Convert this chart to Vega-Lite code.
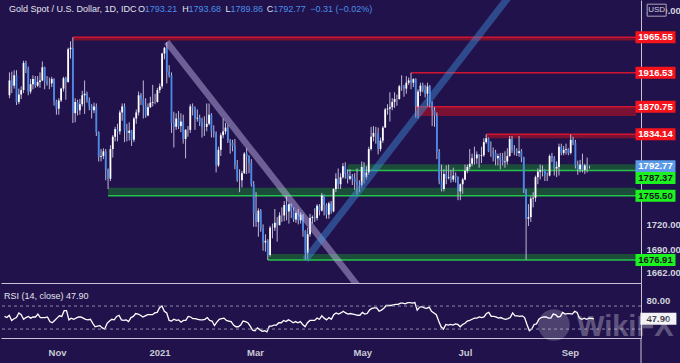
{
"$schema":"https://vega.github.io/schema/vega-lite/v6.json",
"background":"#21124b",
"padding":0,
"spacing":0,
"bounds":"flush",
"config":{"view":{"stroke":null},"font":"Liberation Sans","axis":{"grid":false,"ticks":false,"title":null,"domainColor":"#c4c2d4","domainWidth":1,"labelColor":"#d1d4dc","labelFont":"Liberation Sans","labelFontSize":9.5,"labelFontWeight":"bold","labelOverlap":false,"labelBound":false}},
"datasets":{
"px":[
{"t":-22,"o":1886,"h":1917,"l":1882,"c":1906,"r":52},
{"t":-21,"o":1906,"h":1918,"l":1889,"c":1899,"r":50},
{"t":-20,"o":1899,"h":1920,"l":1895,"c":1913,"r":54},
{"t":-19,"o":1913,"h":1920,"l":1873,"c":1877,"r":45},
{"t":-18,"o":1877,"h":1895,"l":1874,"c":1887,"r":48},
{"t":-17,"o":1887,"h":1898,"l":1881,"c":1893,"r":50},
{"t":-16,"o":1893,"h":1933,"l":1889,"c":1930,"r":58},
{"t":-15,"o":1930,"h":1933,"l":1916,"c":1922,"r":55},
{"t":-14,"o":1922,"h":1925,"l":1886,"c":1891,"r":47},
{"t":-13,"o":1891,"h":1908,"l":1888,"c":1901,"r":50},
{"t":-12,"o":1901,"h":1913,"l":1894,"c":1908,"r":52},
{"t":-11,"o":1908,"h":1912,"l":1896,"c":1899,"r":49},
{"t":-10,"o":1899,"h":1912,"l":1897,"c":1904,"r":51},
{"t":-9,"o":1904,"h":1917,"l":1896,"c":1906,"r":51},
{"t":-8,"o":1906,"h":1932,"l":1905,"c":1924,"r":56},
{"t":-7,"o":1924,"h":1925,"l":1894,"c":1905,"r":50},
{"t":-6,"o":1905,"h":1912,"l":1899,"c":1902,"r":50},
{"t":-5,"o":1902,"h":1910,"l":1894,"c":1902,"r":50},
{"t":-4,"o":1902,"h":1911,"l":1897,"c":1908,"r":51},
{"t":-3,"o":1908,"h":1909,"l":1872,"c":1878,"r":43},
{"t":-2,"o":1878,"h":1880,"l":1860,"c":1868,"r":41},
{"t":-1,"o":1868,"h":1882,"l":1860,"c":1879,"r":45},
{"t":0,"o":1879,"h":1896,"l":1877,"c":1895,"r":49},
{"t":1,"o":1895,"h":1911,"l":1891,"c":1909,"r":53},
{"t":2,"o":1909,"h":1911,"l":1880,"c":1904,"r":52},
{"t":3,"o":1904,"h":1951,"l":1903,"c":1949,"r":62},
{"t":4,"o":1949,"h":1960,"l":1936,"c":1951,"r":62},
{"t":5,"o":1951,"h":1965.55,"l":1849,"c":1862,"r":46},
{"t":6,"o":1862,"h":1882,"l":1850,"c":1877,"r":49},
{"t":7,"o":1877,"h":1880,"l":1859,"c":1866,"r":47},
{"t":8,"o":1866,"h":1881,"l":1860,"c":1874,"r":49},
{"t":9,"o":1874,"h":1892,"l":1871,"c":1886,"r":51},
{"t":10,"o":1886,"h":1906,"l":1861,"c":1888,"r":51},
{"t":11,"o":1888,"h":1891,"l":1876,"c":1879,"r":49},
{"t":12,"o":1879,"h":1883,"l":1866,"c":1871,"r":47},
{"t":13,"o":1871,"h":1874,"l":1855,"c":1866,"r":46},
{"t":14,"o":1866,"h":1876,"l":1862,"c":1871,"r":47},
{"t":15,"o":1871,"h":1875,"l":1832,"c":1837,"r":40},
{"t":16,"o":1837,"h":1838,"l":1799,"c":1805,"r":34},
{"t":17,"o":1805,"h":1815,"l":1799,"c":1806,"r":35},
{"t":18,"o":1806,"h":1816,"l":1802,"c":1812,"r":36},
{"t":19,"o":1812,"h":1815,"l":1775,"c":1788,"r":32},
{"t":20,"o":1788,"h":1790,"l":1764,"c":1777,"r":30},
{"t":21,"o":1777,"h":1820,"l":1774,"c":1815,"r":40},
{"t":22,"o":1815,"h":1833,"l":1804,"c":1831,"r":44},
{"t":23,"o":1831,"h":1844,"l":1825,"c":1841,"r":47},
{"t":24,"o":1841,"h":1848,"l":1825,"c":1838,"r":46},
{"t":25,"o":1838,"h":1866,"l":1834,"c":1863,"r":52},
{"t":26,"o":1863,"h":1875,"l":1852,"c":1871,"r":54},
{"t":27,"o":1871,"h":1875,"l":1824,"c":1839,"r":46},
{"t":28,"o":1839,"h":1848,"l":1825,"c":1836,"r":45},
{"t":29,"o":1836,"h":1850,"l":1826,"c":1839,"r":46},
{"t":30,"o":1839,"h":1840,"l":1819,"c":1827,"r":43},
{"t":31,"o":1827,"h":1857,"l":1824,"c":1855,"r":50},
{"t":32,"o":1855,"h":1867,"l":1848,"c":1863,"r":52},
{"t":33,"o":1863,"h":1891,"l":1859,"c":1886,"r":57},
{"t":34,"o":1886,"h":1889,"l":1873,"c":1881,"r":56},
{"t":35,"o":1881,"h":1906,"l":1855,"c":1872,"r":54},
{"t":36,"o":1872,"h":1882,"l":1856,"c":1859,"r":51},
{"t":37,"o":1859,"h":1875,"l":1858,"c":1870,"r":53},
{"t":38,"o":1870,"h":1884,"l":1869,"c":1876,"r":55},
{"t":39,"o":1876,"h":1900,"l":1871,"c":1877,"r":55},
{"t":40,"o":1877,"h":1888,"l":1874,"c":1877,"r":55},
{"t":41,"o":1877,"h":1896,"l":1876,"c":1893,"r":58},
{"t":42,"o":1893,"h":1902,"l":1889,"c":1898,"r":59},
{"t":43,"o":1898,"h":1944,"l":1895,"c":1943,"r":67},
{"t":44,"o":1943,"h":1952,"l":1935,"c":1951,"r":70},
{"t":45,"o":1951,"h":1959,"l":1902,"c":1918,"r":61},
{"t":46,"o":1918,"h":1927,"l":1910,"c":1913,"r":58},
{"t":47,"o":1913,"h":1917,"l":1836,"c":1849,"r":45},
{"t":48,"o":1849,"h":1864,"l":1817,"c":1844,"r":44},
{"t":49,"o":1844,"h":1862,"l":1840,"c":1855,"r":47},
{"t":50,"o":1855,"h":1865,"l":1841,"c":1845,"r":45},
{"t":51,"o":1845,"h":1862,"l":1837,"c":1851,"r":46},
{"t":52,"o":1851,"h":1860,"l":1822,"c":1828,"r":42},
{"t":53,"o":1828,"h":1841,"l":1803,"c":1840,"r":45},
{"t":54,"o":1840,"h":1845,"l":1831,"c":1840,"r":45},
{"t":55,"o":1840,"h":1874,"l":1836,"c":1871,"r":52},
{"t":56,"o":1871,"h":1875,"l":1859,"c":1869,"r":51},
{"t":57,"o":1869,"h":1871,"l":1840,"c":1855,"r":48},
{"t":58,"o":1855,"h":1867,"l":1851,"c":1856,"r":48},
{"t":59,"o":1856,"h":1860,"l":1845,"c":1850,"r":47},
{"t":60,"o":1850,"h":1856,"l":1830,"c":1844,"r":46},
{"t":61,"o":1844,"h":1858,"l":1832,"c":1844,"r":46},
{"t":62,"o":1844,"h":1875,"l":1838,"c":1848,"r":47},
{"t":63,"o":1848,"h":1875,"l":1846,"c":1860,"r":50},
{"t":64,"o":1860,"h":1862,"l":1830,"c":1838,"r":45},
{"t":65,"o":1838,"h":1846,"l":1830,"c":1835,"r":44},
{"t":66,"o":1835,"h":1838,"l":1785,"c":1794,"r":36},
{"t":67,"o":1794,"h":1818,"l":1792,"c":1814,"r":42},
{"t":68,"o":1814,"h":1836,"l":1806,"c":1833,"r":47},
{"t":69,"o":1833,"h":1855,"l":1829,"c":1838,"r":48},
{"t":70,"o":1838,"h":1849,"l":1834,"c":1843,"r":49},
{"t":71,"o":1843,"h":1847,"l":1823,"c":1826,"r":45},
{"t":72,"o":1826,"h":1828,"l":1809,"c":1823,"r":44},
{"t":73,"o":1823,"h":1827,"l":1812,"c":1819,"r":43},
{"t":74,"o":1819,"h":1828,"l":1789,"c":1794,"r":37},
{"t":75,"o":1794,"h":1801,"l":1773,"c":1775,"r":34},
{"t":76,"o":1775,"h":1789,"l":1760,"c":1775,"r":34},
{"t":77,"o":1775,"h":1787,"l":1766,"c":1784,"r":37},
{"t":78,"o":1784,"h":1811,"l":1783,"c":1809,"r":44},
{"t":79,"o":1809,"h":1816,"l":1783,"c":1806,"r":43},
{"t":80,"o":1806,"h":1807,"l":1784,"c":1797,"r":41},
{"t":81,"o":1797,"h":1802,"l":1767,"c":1770,"r":35},
{"t":82,"o":1770,"h":1774,"l":1717,"c":1734,"r":28},
{"t":83,"o":1734,"h":1760,"l":1717,"c":1723,"r":27},
{"t":84,"o":1723,"h":1740,"l":1705,"c":1737,"r":32},
{"t":85,"o":1737,"h":1739,"l":1711,"c":1715,"r":29},
{"t":86,"o":1715,"h":1720,"l":1688,"c":1698,"r":26},
{"t":87,"o":1698,"h":1708,"l":1687,"c":1700,"r":27},
{"t":88,"o":1700,"h":1702,"l":1676.91,"c":1683,"r":25},
{"t":89,"o":1683,"h":1718,"l":1681,"c":1716,"r":35},
{"t":90,"o":1716,"h":1721,"l":1703,"c":1716,"r":35},
{"t":91,"o":1716,"h":1739,"l":1712,"c":1722,"r":37},
{"t":92,"o":1722,"h":1729,"l":1699,"c":1719,"r":37},
{"t":93,"o":1719,"h":1735,"l":1719,"c":1731,"r":41},
{"t":94,"o":1731,"h":1741,"l":1723,"c":1731,"r":41},
{"t":95,"o":1731,"h":1749,"l":1724,"c":1744,"r":45},
{"t":96,"o":1744,"h":1755,"l":1725,"c":1736,"r":43},
{"t":97,"o":1736,"h":1746,"l":1721,"c":1745,"r":46},
{"t":98,"o":1745,"h":1746,"l":1728,"c":1737,"r":44},
{"t":99,"o":1737,"h":1741,"l":1723,"c":1726,"r":41},
{"t":100,"o":1726,"h":1737,"l":1722,"c":1734,"r":43},
{"t":101,"o":1734,"h":1739,"l":1720,"c":1725,"r":41},
{"t":102,"o":1725,"h":1735,"l":1721,"c":1732,"r":43},
{"t":103,"o":1732,"h":1733,"l":1705,"c":1712,"r":38},
{"t":104,"o":1712,"h":1713,"l":1677,"c":1685,"r":34},
{"t":105,"o":1685,"h":1716,"l":1678,"c":1708,"r":41},
{"t":106,"o":1708,"h":1733,"l":1705,"c":1728,"r":45},
{"t":107,"o":1728,"h":1731,"l":1721,"c":1729,"r":45},
{"t":108,"o":1729,"h":1740,"l":1723,"c":1728,"r":45},
{"t":109,"o":1728,"h":1745,"l":1725,"c":1743,"r":49},
{"t":110,"o":1743,"h":1745,"l":1731,"c":1737,"r":47},
{"t":111,"o":1737,"h":1759,"l":1736,"c":1756,"r":53},
{"t":112,"o":1756,"h":1757,"l":1731,"c":1744,"r":49},
{"t":113,"o":1744,"h":1746,"l":1727,"c":1732,"r":46},
{"t":114,"o":1732,"h":1748,"l":1727,"c":1746,"r":50},
{"t":115,"o":1746,"h":1749,"l":1733,"c":1736,"r":47},
{"t":116,"o":1736,"h":1765,"l":1735,"c":1764,"r":55},
{"t":117,"o":1764,"h":1784,"l":1760,"c":1777,"r":58},
{"t":118,"o":1777,"h":1790,"l":1764,"c":1770,"r":56},
{"t":119,"o":1770,"h":1784,"l":1764,"c":1779,"r":58},
{"t":120,"o":1779,"h":1797,"l":1777,"c":1793,"r":61},
{"t":121,"o":1793,"h":1798,"l":1777,"c":1783,"r":58},
{"t":122,"o":1783,"h":1789,"l":1771,"c":1777,"r":56},
{"t":123,"o":1777,"h":1789,"l":1775,"c":1780,"r":57},
{"t":124,"o":1780,"h":1783,"l":1769,"c":1777,"r":56},
{"t":125,"o":1777,"h":1784,"l":1763,"c":1773,"r":55},
{"t":126,"o":1773,"h":1790,"l":1757,"c":1769,"r":54},
{"t":127,"o":1769,"h":1775,"l":1760,"c":1769,"r":54},
{"t":128,"o":1769,"h":1799,"l":1766,"c":1792,"r":59},
{"t":129,"o":1792,"h":1798,"l":1771,"c":1779,"r":56},
{"t":130,"o":1779,"h":1793,"l":1776,"c":1785,"r":57},
{"t":131,"o":1785,"h":1818,"l":1782,"c":1815,"r":63},
{"t":132,"o":1815,"h":1844,"l":1813,"c":1831,"r":66},
{"t":133,"o":1831,"h":1845,"l":1825,"c":1836,"r":67},
{"t":134,"o":1836,"h":1844,"l":1822,"c":1836,"r":67},
{"t":135,"o":1836,"h":1843,"l":1808,"c":1815,"r":61},
{"t":136,"o":1815,"h":1830,"l":1812,"c":1826,"r":63},
{"t":137,"o":1826,"h":1845,"l":1823,"c":1843,"r":66},
{"t":138,"o":1843,"h":1869,"l":1843,"c":1867,"r":71},
{"t":139,"o":1867,"h":1874,"l":1860,"c":1868,"r":71},
{"t":140,"o":1868,"h":1890,"l":1851,"c":1870,"r":71},
{"t":141,"o":1870,"h":1882,"l":1866,"c":1877,"r":72},
{"t":142,"o":1877,"h":1890,"l":1869,"c":1881,"r":73},
{"t":143,"o":1881,"h":1887,"l":1872,"c":1881,"r":73},
{"t":144,"o":1881,"h":1900,"l":1880,"c":1898,"r":75},
{"t":145,"o":1898,"h":1913,"l":1892,"c":1897,"r":75},
{"t":146,"o":1897,"h":1900,"l":1884,"c":1895,"r":74},
{"t":147,"o":1895,"h":1912,"l":1888,"c":1903,"r":76},
{"t":148,"o":1903,"h":1910,"l":1900,"c":1906,"r":76},
{"t":149,"o":1906,"h":1916.53,"l":1894,"c":1903,"r":75},
{"t":150,"o":1903,"h":1909,"l":1897,"c":1908,"r":76},
{"t":151,"o":1908,"h":1909,"l":1856,"c":1871,"r":63},
{"t":152,"o":1871,"h":1894,"l":1855,"c":1891,"r":68},
{"t":153,"o":1891,"h":1903,"l":1885,"c":1899,"r":69},
{"t":154,"o":1899,"h":1903,"l":1890,"c":1893,"r":67},
{"t":155,"o":1893,"h":1900,"l":1883,"c":1888,"r":66},
{"t":156,"o":1888,"h":1903,"l":1871,"c":1898,"r":68},
{"t":157,"o":1898,"h":1900,"l":1870,"c":1877,"r":61},
{"t":158,"o":1877,"h":1878,"l":1845,"c":1866,"r":58},
{"t":159,"o":1866,"h":1870,"l":1844,"c":1859,"r":55},
{"t":160,"o":1859,"h":1863,"l":1802,"c":1812,"r":44},
{"t":161,"o":1812,"h":1815,"l":1770,"c":1774,"r":34},
{"t":162,"o":1774,"h":1795,"l":1761,"c":1764,"r":30},
{"t":163,"o":1764,"h":1789,"l":1761,"c":1783,"r":38},
{"t":164,"o":1783,"h":1794,"l":1770,"c":1778,"r":37},
{"t":165,"o":1778,"h":1795,"l":1776,"c":1779,"r":38},
{"t":166,"o":1779,"h":1788,"l":1772,"c":1776,"r":37},
{"t":167,"o":1776,"h":1791,"l":1773,"c":1781,"r":39},
{"t":168,"o":1781,"h":1785,"l":1772,"c":1779,"r":38},
{"t":169,"o":1779,"h":1780,"l":1750,"c":1761,"r":34},
{"t":170,"o":1761,"h":1771,"l":1750,"c":1770,"r":38},
{"t":171,"o":1770,"h":1778,"l":1758,"c":1776,"r":40},
{"t":172,"o":1776,"h":1795,"l":1775,"c":1787,"r":44},
{"t":173,"o":1787,"h":1795,"l":1784,"c":1792,"r":45},
{"t":174,"o":1792,"h":1815,"l":1789,"c":1796,"r":47},
{"t":175,"o":1796,"h":1809,"l":1793,"c":1803,"r":49},
{"t":176,"o":1803,"h":1818,"l":1795,"c":1803,"r":49},
{"t":177,"o":1803,"h":1812,"l":1796,"c":1808,"r":51},
{"t":178,"o":1808,"h":1808,"l":1791,"c":1806,"r":50},
{"t":179,"o":1806,"h":1818,"l":1797,"c":1807,"r":51},
{"t":180,"o":1807,"h":1829,"l":1805,"c":1824,"r":57},
{"t":181,"o":1824,"h":1834.14,"l":1822,"c":1829,"r":59},
{"t":182,"o":1829,"h":1830,"l":1811,"c":1812,"r":52},
{"t":183,"o":1812,"h":1825,"l":1805,"c":1812,"r":52},
{"t":184,"o":1812,"h":1817,"l":1799,"c":1810,"r":51},
{"t":185,"o":1810,"h":1814,"l":1794,"c":1803,"r":49},
{"t":186,"o":1803,"h":1809,"l":1794,"c":1806,"r":50},
{"t":187,"o":1806,"h":1810,"l":1789,"c":1801,"r":48},
{"t":188,"o":1801,"h":1810,"l":1794,"c":1798,"r":47},
{"t":189,"o":1798,"h":1812,"l":1791,"c":1799,"r":48},
{"t":190,"o":1799,"h":1816,"l":1795,"c":1806,"r":50},
{"t":191,"o":1806,"h":1832,"l":1805,"c":1828,"r":58},
{"t":192,"o":1828,"h":1832,"l":1810,"c":1814,"r":53},
{"t":193,"o":1814,"h":1820,"l":1807,"c":1813,"r":53},
{"t":194,"o":1813,"h":1816,"l":1806,"c":1810,"r":52},
{"t":195,"o":1810,"h":1832,"l":1805,"c":1812,"r":53},
{"t":196,"o":1812,"h":1815,"l":1798,"c":1804,"r":50},
{"t":197,"o":1804,"h":1805,"l":1759,"c":1763,"r":38},
{"t":198,"o":1763,"h":1764,"l":1677,"c":1727,"r":27},
{"t":199,"o":1727,"h":1745,"l":1718,"c":1729,"r":30},
{"t":200,"o":1729,"h":1755,"l":1723,"c":1752,"r":38},
{"t":201,"o":1752,"h":1760,"l":1741,"c":1753,"r":39},
{"t":202,"o":1753,"h":1781,"l":1748,"c":1779,"r":47},
{"t":203,"o":1779,"h":1790,"l":1770,"c":1786,"r":50},
{"t":204,"o":1786,"h":1795,"l":1776,"c":1788,"r":51},
{"t":205,"o":1788,"h":1794,"l":1780,"c":1788,"r":51},
{"t":206,"o":1788,"h":1789,"l":1774,"c":1781,"r":49},
{"t":207,"o":1781,"h":1785,"l":1774,"c":1781,"r":49},
{"t":208,"o":1781,"h":1808,"l":1780,"c":1806,"r":56},
{"t":209,"o":1806,"h":1810,"l":1798,"c":1803,"r":55},
{"t":210,"o":1803,"h":1806,"l":1781,"c":1790,"r":51},
{"t":211,"o":1790,"h":1799,"l":1779,"c":1792,"r":52},
{"t":212,"o":1792,"h":1822,"l":1781,"c":1818,"r":59},
{"t":213,"o":1818,"h":1822,"l":1807,"c":1810,"r":56},
{"t":214,"o":1810,"h":1819,"l":1807,"c":1814,"r":57},
{"t":215,"o":1814,"h":1822,"l":1808,"c":1815,"r":57},
{"t":216,"o":1815,"h":1816,"l":1807,"c":1810,"r":56},
{"t":217,"o":1810,"h":1834,"l":1808,"c":1827,"r":61},
{"t":218,"o":1827,"h":1831,"l":1820,"c":1823,"r":59},
{"t":219,"o":1823,"h":1827,"l":1790,"c":1794,"r":49},
{"t":220,"o":1794,"h":1800,"l":1782,"c":1789,"r":47},
{"t":221,"o":1789,"h":1801,"l":1785,"c":1795,"r":49},
{"t":222,"o":1795,"h":1809,"l":1785,"c":1788,"r":47},
{"t":223,"o":1788,"h":1796,"l":1783,"c":1794,"r":49},
{"t":224,"o":1794,"h":1804,"l":1785,"c":1793.21,"r":48.5},
{"t":225,"o":1793.21,"h":1793.68,"l":1789.86,"c":1792.77,"r":47.9}
],
"lv":[
{"p":1965.55,"a":1961,"b":1965.55,"s":5,"k":"r"},
{"p":1916.53,"a":1916.53,"b":1916.53,"s":149,"k":"r"},
{"p":1870.75,"a":1858.3,"b":1870.75,"s":151,"k":"r"},
{"p":1834.14,"a":1828.9,"b":1834.14,"s":181,"k":"r"},
{"p":1787.37,"a":1787.37,"b":1795.4,"s":122,"k":"g"},
{"p":1755.5,"a":1755.5,"b":1765.6,"s":20,"k":"g"},
{"p":1676.91,"a":1676.91,"b":1684.1,"s":88,"k":"g"}
],
"tl":[
{"g":"a","t":45,"p":1959},
{"g":"a","t":130,"p":1633.3},
{"g":"b","t":104,"p":1677},
{"g":"b","t":196.1,"p":2047.5}
],
"ttl":[
{"t":-22.21,"s":"Gold Spot / U.S. Dollar, 1D, IDC","k":"w"},
{"t":32.69,"s":"O","k":"w"},
{"t":35.62,"s":"1793.21","k":"b"},
{"t":51.55,"s":"H","k":"w"},
{"t":54.27,"s":"1793.68","k":"b"},
{"t":69.99,"s":"L","k":"w"},
{"t":72.09,"s":"1789.86","k":"b"},
{"t":87.59,"s":"C","k":"w"},
{"t":90.32,"s":"1792.77","k":"b"},
{"t":106.04,"s":"−0.31 (−0.02%)","k":"b"}
],
"lab":[
{"p":1965.55,"s":"1965.55","k":"r"},
{"p":1916.53,"s":"1916.53","k":"r"},
{"p":1870.75,"s":"1870.75","k":"r"},
{"p":1834.14,"s":"1834.14","k":"r"},
{"p":1792.77,"s":"1792.77","k":"b"},
{"p":1778,"s":"1787.37","k":"g"},
{"p":1755.5,"s":"1755.50","k":"g"},
{"p":1676.91,"s":"1676.91","k":"g"}
]
},
"vconcat":[
{
"width":640,"height":283,
"layer":[
{"data":{"name":"lv"},"mark":{"type":"rect"},
 "encoding":{
  "x":{"field":"s","type":"quantitative","scale":{"domain":[-23.47,244.8],"nice":false,"zero":false},"axis":{"labels":false,"domain":true,"orient":"bottom"}},
  "x2":{"datum":244.8},
  "y":{"field":"a","type":"quantitative","scale":{"type":"log","domain":[1649.6,2018.6],"nice":false,"zero":false},"axis":{"orient":"right","values":[1662,1690,1720,2004],"labelExpr":"datum.value==2004?'2000.00':format(datum.value,'.2f')","labelPadding":5,"domain":true}},
  "y2":{"field":"b"},
  "color":{"condition":{"test":"datum.k=='r'","value":"#7a1133"},"value":"#1c4d3b"}}},
{"data":{"name":"lv"},"mark":{"type":"rule","strokeWidth":1.5},
 "encoding":{
  "x":{"field":"s","type":"quantitative","scale":{"domain":[-23.47,244.8],"nice":false,"zero":false}},
  "x2":{"datum":244.8},
  "y":{"field":"p","type":"quantitative","scale":{"type":"log","domain":[1649.6,2018.6],"nice":false,"zero":false}},
  "color":{"condition":{"test":"datum.k=='r'","value":"#d1142f"},"value":"#25c24a"}}},
{"data":{"name":"px"},"mark":{"type":"rule","strokeWidth":1,"color":"#bdb9d6"},
 "encoding":{
  "x":{"field":"t","type":"quantitative","scale":{"domain":[-23.47,244.8],"nice":false,"zero":false}},
  "y":{"field":"l","type":"quantitative","scale":{"type":"log","domain":[1649.6,2018.6],"nice":false,"zero":false}},
  "y2":{"field":"h"}}},
{"data":{"name":"px"},"mark":{"type":"bar","width":1.8,"minBandSize":1},
 "encoding":{
  "x":{"field":"t","type":"quantitative","scale":{"domain":[-23.47,244.8],"nice":false,"zero":false}},
  "y":{"field":"o","type":"quantitative","scale":{"type":"log","domain":[1649.6,2018.6],"nice":false,"zero":false}},
  "y2":{"field":"c"},
  "color":{"condition":{"test":"datum.c>=datum.o","value":"#ffffff"},"value":"#4a8ae6"}}},
{"data":{"name":"tl"},"transform":[{"filter":"datum.g=='a'"}],"mark":{"type":"line","clip":true,"strokeWidth":6.5,"color":"#cbc2f2","opacity":0.45,"strokeCap":"butt"},
 "encoding":{
  "x":{"field":"t","type":"quantitative","scale":{"domain":[-23.47,244.8],"nice":false,"zero":false}},
  "y":{"field":"p","type":"quantitative","scale":{"type":"log","domain":[1649.6,2018.6],"nice":false,"zero":false}}}},
{"data":{"name":"tl"},"transform":[{"filter":"datum.g=='b'"}],"mark":{"type":"line","clip":true,"strokeWidth":7,"color":"#3f90dc","opacity":0.45,"strokeCap":"butt"},
 "encoding":{
  "x":{"field":"t","type":"quantitative","scale":{"domain":[-23.47,244.8],"nice":false,"zero":false}},
  "y":{"field":"p","type":"quantitative","scale":{"type":"log","domain":[1649.6,2018.6],"nice":false,"zero":false}}}},
{"data":{"name":"ttl"},"mark":{"type":"text","align":"left","baseline":"middle","fontSize":9},
 "encoding":{
  "x":{"field":"t","type":"quantitative","scale":{"domain":[-23.47,244.8],"nice":false,"zero":false}},
  "y":{"datum":2006.3,"type":"quantitative","scale":{"type":"log","domain":[1649.6,2018.6],"nice":false,"zero":false}},
  "text":{"field":"s"},
  "color":{"condition":{"test":"datum.k=='w'","value":"#e2e4ec"},"value":"#4a8ee8"}}},
{"data":{"name":"lab"},"mark":{"type":"tick","orient":"horizontal","size":40,"thickness":12,"opacity":1},
 "encoding":{
  "x":{"datum":253.1,"type":"quantitative","scale":{"domain":[-23.47,244.8],"nice":false,"zero":false}},
  "y":{"field":"p","type":"quantitative","scale":{"type":"log","domain":[1649.6,2018.6],"nice":false,"zero":false}},
  "color":{"condition":[{"test":"datum.k=='r'","value":"#f5141c"},{"test":"datum.k=='g'","value":"#1cf21f"}],"value":"#5b9be8"}}},
{"data":{"name":"lab"},"mark":{"type":"text","align":"center","baseline":"middle","fontSize":9.5,"fontWeight":"bold"},
 "encoding":{
  "x":{"datum":253.1,"type":"quantitative","scale":{"domain":[-23.47,244.8],"nice":false,"zero":false}},
  "y":{"field":"p","type":"quantitative","scale":{"type":"log","domain":[1649.6,2018.6],"nice":false,"zero":false}},
  "text":{"field":"s"},
  "color":{"condition":{"test":"datum.k=='g'","value":"#16161e"},"value":"#ffffff"}}},
{"data":{"values":[{"s":"USD"}]},"mark":{"type":"tick","orient":"horizontal","size":19,"thickness":12,"color":"#21124b","stroke":"#a9a7bd","strokeWidth":1,"opacity":1},
 "encoding":{
  "x":{"datum":253.6,"type":"quantitative","scale":{"domain":[-23.47,244.8],"nice":false,"zero":false}},
  "y":{"datum":2004,"type":"quantitative","scale":{"type":"log","domain":[1649.6,2018.6],"nice":false,"zero":false}}}},
{"data":{"values":[{"s":"USD"}]},"mark":{"type":"text","align":"center","baseline":"middle","fontSize":8,"color":"#d1d4dc"},
 "encoding":{
  "x":{"datum":253.6,"type":"quantitative","scale":{"domain":[-23.47,244.8],"nice":false,"zero":false}},
  "y":{"datum":2004,"type":"quantitative","scale":{"type":"log","domain":[1649.6,2018.6],"nice":false,"zero":false}},
  "text":{"field":"s"}}}
]
},
{
"width":640,"height":55,
"layer":[
{"data":{"name":"px"},"mark":{"type":"line","color":"#ffffff","strokeWidth":1.3},
 "encoding":{
  "x":{"field":"t","type":"quantitative","scale":{"domain":[-23.47,244.8],"nice":false,"zero":false},"axis":{"values":[0,43,83,128,171,215],"labelExpr":"datum.value==0?'Nov':datum.value==43?'2021':datum.value==83?'Mar':datum.value==128?'May':datum.value==171?'Jul':'Sep'","labelPadding":9,"labelColor":"#c8cad4","domain":true}},
  "y":{"field":"r","type":"quantitative","scale":{"domain":[14.45,110.1],"nice":false,"zero":false},"axis":{"orient":"right","values":[80],"format":".2f","labelPadding":5,"domain":true}}}},
{"data":{"values":[{"v":70},{"v":30}]},"mark":{"type":"rule","strokeDash":[3,3],"color":"#8d8aa6","strokeWidth":1},
 "encoding":{
  "y":{"field":"v","type":"quantitative","scale":{"domain":[14.45,110.1],"nice":false,"zero":false}}}},
{"data":{"values":[{"s":"RSI (14, close)  47.90"}]},"mark":{"type":"text","align":"left","baseline":"middle","fontSize":9,"color":"#e2e4ec"},
 "encoding":{
  "x":{"datum":-22.21,"type":"quantitative","scale":{"domain":[-23.47,244.8],"nice":false,"zero":false}},
  "y":{"datum":87.5,"type":"quantitative","scale":{"domain":[14.45,110.1],"nice":false,"zero":false}},
  "text":{"field":"s"}}},
{"data":{"values":[{"s":"47.90"}]},"mark":{"type":"tick","orient":"horizontal","size":36,"thickness":12,"color":"#f2f2f6","opacity":1},
 "encoding":{
  "x":{"datum":252.1,"type":"quantitative","scale":{"domain":[-23.47,244.8],"nice":false,"zero":false}},
  "y":{"datum":47.9,"type":"quantitative","scale":{"domain":[14.45,110.1],"nice":false,"zero":false}}}},
{"data":{"values":[{"s":"47.90"}]},"mark":{"type":"text","align":"center","baseline":"middle","fontSize":9.5,"fontWeight":"bold","color":"#3a3a48"},
 "encoding":{
  "x":{"datum":252.1,"type":"quantitative","scale":{"domain":[-23.47,244.8],"nice":false,"zero":false}},
  "y":{"datum":47.9,"type":"quantitative","scale":{"domain":[14.45,110.1],"nice":false,"zero":false}},
  "text":{"field":"s"}}},
{"data":{"values":[{"s":"edge"}]},"mark":{"type":"rule","color":"#c4c2d4","strokeWidth":1},
 "encoding":{
  "x":{"datum":244.8,"type":"quantitative","scale":{"domain":[-23.47,244.8],"nice":false,"zero":false}},
  "y":{"datum":14.45,"type":"quantitative","scale":{"domain":[14.45,110.1],"nice":false,"zero":false}},
  "y2":{"datum":-29}}},
{"data":{"values":[{"s":"logo"}]},"mark":{"type":"point","shape":"circle","filled":true,"size":1000,"color":"#ffffff","opacity":0.2},
 "encoding":{
  "x":{"datum":208.3,"type":"quantitative","scale":{"domain":[-23.47,244.8],"nice":false,"zero":false}},
  "y":{"datum":37.1,"type":"quantitative","scale":{"domain":[14.45,110.1],"nice":false,"zero":false}}}},
{"data":{"values":[{"s":"WikiFX"}]},"mark":{"type":"text","align":"left","baseline":"middle","fontSize":29,"fontWeight":"bold","color":"#ffffff","opacity":0.28},
 "encoding":{
  "x":{"datum":218,"type":"quantitative","scale":{"domain":[-23.47,244.8],"nice":false,"zero":false}},
  "y":{"datum":33.6,"type":"quantitative","scale":{"domain":[14.45,110.1],"nice":false,"zero":false}},
  "text":{"field":"s"}}}
]
}
]
}
